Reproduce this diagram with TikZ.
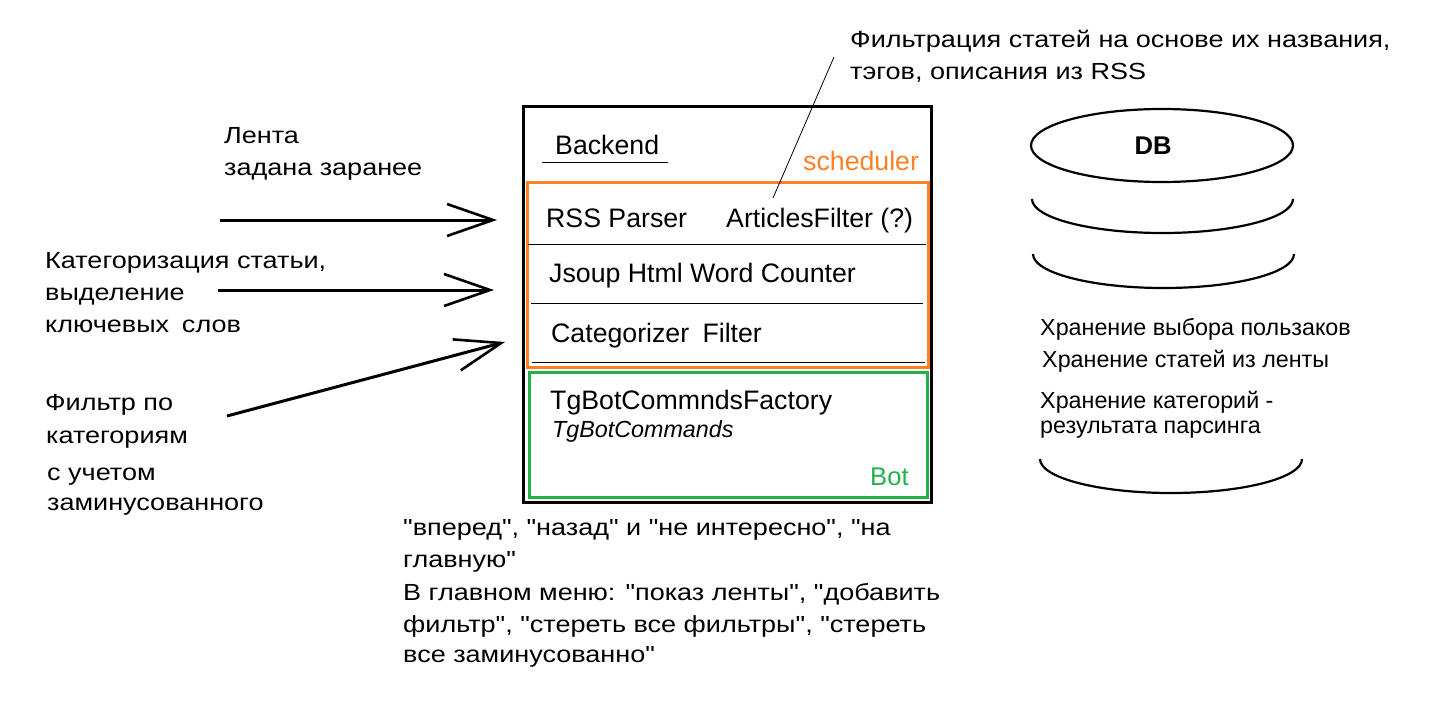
\documentclass[tikz,border=0pt]{standalone}
\usepackage{fontspec}
\setmainfont{Liberation Sans}
\newfontfamily\wideFont[FakeStretch=1.16]{Liberation Sans}
\usetikzlibrary{arrows.meta,shapes.geometric}

\definecolor{schedOrange}{RGB}{255,127,39}
\definecolor{botGreen}{RGB}{34,177,76}

\begin{document}
\begin{tikzpicture}[x=1pt,y=-1pt,
	txt/.style={anchor=base west,inner sep=0pt,font=\fontsize{23.3}{28}\selectfont},
	boxtxt/.style={anchor=base west,inner sep=0pt,font=\fontsize{26.7}{32}\selectfont},
	notetxt/.style={anchor=base west,inner sep=0pt,font=\wideFont\fontsize{23.3}{28}\selectfont},
	frame/.style={draw,line width=#1,anchor=north west,inner sep=0pt},
	feed/.style={line width=3pt,-{Straight Barb[length=46pt,width=32pt,line width=2.6pt]}},
	sep/.style={line width=1pt},
	dbline/.style={line width=2.2pt}]
\useasboundingbox (0,0) rectangle (1446,701);

% backend block
\node[frame=3pt,minimum width=408pt,minimum height=396pt] (backend) at (522,105) {};
\node[frame=3pt,draw=schedOrange,minimum width=401pt,minimum height=185pt] (scheduler) at (526,181) {};
\node[frame=3pt,draw=botGreen,minimum width=398pt,minimum height=125pt] (bot) at (528,371) {};

\node[boxtxt] (backendLbl) at (555,154) {Backend};
\draw[sep] (542,162) -- (668,162);
\node[boxtxt,text=schedOrange] (schedLbl) at (803,170) {scheduler};

\node[boxtxt] (rss) at (546,227) {RSS Parser};
\node[boxtxt] (articles) at (726,227) {ArticlesFilter (?)};
\draw[sep] (528,244) -- (926,244);
\node[boxtxt] (jsoup) at (549,282) {Jsoup Html Word Counter};
\draw[sep] (531,303) -- (923,303);
\node[boxtxt] (categorizer) at (551,342) {Categorizer\hspace{0.5em}Filter};
\draw[sep] (532,362) -- (925,362);

\node[boxtxt] (factory) at (550,409) {TgBotCommndsFactory};
\node[txt,font=\itshape\fontsize{23.3}{28}\selectfont] (commands) at (552,437) {TgBotCommands};
\node[boxtxt,text=botGreen,font=\fontsize{25.6}{30}\selectfont] (botLbl) at (870,485) {Bot};

% note on the filter
\node[notetxt] (filterNote1) at (850,48) {Фильтрация статей на основе их названия,};
\node[notetxt] (filterNote2) at (850,80) {тэгов, описания из RSS};
\coordinate (noteEnd) at (834,57);
\coordinate (filterEnd) at (773,198);
\draw[line width=0.8pt] (noteEnd) -- (filterEnd);

% inputs on the left
\node[notetxt] (feed1) at (224,143) {Лента};
\node[notetxt] (feed2) at (224,175) {задана заранее};
\node[notetxt] (categ1) at (45,268) {Категоризация статьи,};
\node[notetxt] (categ2) at (45,300) {выделение};
\node[notetxt] (categ3) at (45,332) {ключевых\hspace{0.55em}слов};
\node[notetxt] (catFilter1) at (45,410) {Фильтр по};
\node[notetxt] (catFilter2) at (46,443) {категориям};
\node[notetxt] (catFilter3) at (47,480) {с учетом};
\node[notetxt] (catFilter4) at (47,510) {заминусованного};

\coordinate (feedFrom) at (220,220);
\coordinate (feedTo) at (497,220);
\coordinate (categFrom) at (218,290);
\coordinate (categTo) at (494,290);
\coordinate (catFilterFrom) at (227,416);
\coordinate (catFilterTo) at (505,342);
\draw[feed] (feedFrom) -- (feedTo);
\draw[feed] (categFrom) -- (categTo);
\draw[feed] (catFilterFrom) -- (catFilterTo);

% bot commands
\node[notetxt] (cmd1) at (403,535) {"вперед", "назад" и "не интересно", "на};
\node[notetxt] (cmd2) at (403,567) {главную"};
\node[notetxt] (cmd3) at (403,600) {В главном меню: "показ ленты", "добавить};
\node[notetxt] (cmd4) at (403,632) {фильтр", "стереть все фильтры", "стереть};
\node[notetxt] (cmd5) at (403,662) {все заминусованно"};

% database
\newcommand\dbArc[4]{\draw[dbline] (#1,#3) .. controls (#1,#3+0.5523*#4) and ({(#1+#2)/2-0.5523*(#2-#1)/2},#3+#4) .. ({(#1+#2)/2},#3+#4) .. controls ({(#1+#2)/2+0.5523*(#2-#1)/2},#3+#4) and (#2,#3+0.5523*#4) .. (#2,#3);}
\node[draw,ellipse,line width=2.2pt,inner sep=0pt,minimum width=262pt,minimum height=73pt,font=\bfseries\fontsize{25.6}{30}\selectfont] (db) at (1162,145.5) {DB\hspace*{18pt}};
\dbArc{1032}{1293}{199}{34}
\dbArc{1033}{1294}{254}{34}
\dbArc{1040}{1302}{459}{34}

\node[txt] (store1) at (1040,335) {Хранение выбора пользаков};
\node[txt] (store2) at (1042,367) {Хранение статей из ленты};
\node[txt] (store3) at (1040,408) {Хранение категорий -};
\node[txt] (store4) at (1040,433) {результата парсинга};
\end{tikzpicture}
\end{document}
